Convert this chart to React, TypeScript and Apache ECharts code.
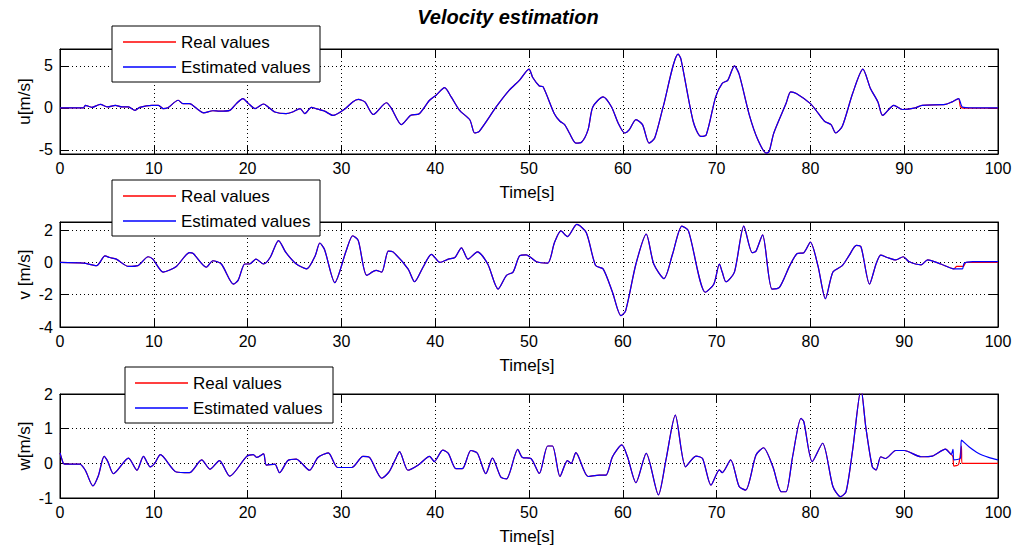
import React, { useEffect, useRef } from "react";
import * as echarts from "echarts";

// ---------- data ----------
const uTime = [0, 2.5, 2.7, 3.4, 4.3, 5.1, 5.9, 6.6, 7.3, 8.0, 8.5, 9.8, 10.5, 11.0, 11.5, 12.6, 13.1, 13.8, 14.6, 15.3, 16.3, 17.0, 18.1, 18.8, 19.5, 20.1, 20.8, 21.7, 22.2, 22.9, 24.1, 24.8, 25.6, 26.1, 26.8, 27.3, 28.2, 29.1, 30.4, 31.2, 31.8, 32.5, 33.4, 34.8, 35.3, 36.4, 37.4, 38.3, 39.4, 40.1, 41.0, 41.7, 42.6, 43.7, 44.2, 44.7, 46.5, 47.9, 49.0, 50.0, 50.4, 51.1, 51.5, 52.7, 53.3, 53.8, 54.3, 55.0, 55.6, 56.3, 56.8, 57.9, 58.8, 59.5, 60.2, 60.7, 61.4, 62.1, 62.8, 63.4, 64.3, 65.9, 66.2, 67.5, 68.3, 68.9, 69.9, 70.6, 71.2, 71.9, 72.4, 73.5, 74.4, 75.3, 75.6, 76.1, 77.4, 77.9, 78.5, 80.0, 80.6, 81.5, 82.2, 82.7, 83.4, 84.5, 85.6, 86.4, 87.2, 87.7, 88.9, 89.8, 91.2, 91.9, 94.4, 95.1, 95.8, 96.2, 97.3, 100];
const uEstimated = [0, 0, 0.3, 0.05, 0.4, 0.1, 0.3, 0.1, 0.1, -0.3, 0.05, 0.3, 0.3, -0.1, 0, 0.9, 0.5, 0.5, -0.1, -0.6, -0.35, -0.4, -0.3, 0.5, 1.1, 0.5, -0.1, 0.45, 0.1, -0.5, -0.7, -0.5, -0.1, -0.7, 0.05, -0.1, -0.4, -0.9, -0.1, 0.7, 1.0, 0.7, -0.8, 0.6, 0, -2.0, -0.9, -0.7, 0.9, 1.5, 2.4, 1.3, -0.3, -1.45, -3.0, -2.8, 0.1, 2.1, 3.3, 4.6, 3.6, 2.6, 2.5, -0.7, -1.6, -2.0, -3.0, -4.2, -4.1, -2.6, 0.1, 1.3, 0.1, -1.8, -3.0, -2.6, -1.4, -2.0, -4.2, -3.6, 0.1, 6.4, 5.8, -1.6, -3.4, -3.2, 1.3, 2.9, 3.3, 5.0, 4.0, -0.9, -3.8, -5.4, -5.2, -3.0, 0.5, 1.9, 1.7, 0.5, -0.3, -1.6, -2.0, -3.0, -2.2, 1.7, 4.6, 2.3, 0.7, -0.9, 0.3, -0.2, 0.0, 0.3, 0.4, 0.7, 1.1, 0.1, 0.0, 0.0];
const uRealCut = 95.8;
const uRealTailTime = [96.0, 96.5, 100];
const uRealTail = [0.1, -0.05, -0.05];

const vTime = [0, 2.5, 3.9, 4.8, 5.3, 6.0, 7.3, 8.3, 9.4, 9.9, 11.0, 12.4, 13.8, 14.2, 15.6, 16.3, 17.2, 18.5, 19.0, 19.7, 20.2, 20.9, 21.7, 22.4, 23.3, 24.1, 25.2, 26.3, 27.2, 27.7, 28.2, 29.3, 30.5, 31.2, 31.8, 32.7, 33.7, 34.3, 35.0, 35.5, 37.1, 37.8, 38.7, 39.6, 40.5, 41.4, 42.1, 42.8, 43.5, 44.5, 45.6, 46.7, 47.6, 48.3, 48.99, 49.7, 50.8, 52.0, 52.7, 53.4, 54.1, 55.1, 56.1, 57.1, 57.9, 58.9, 59.8, 60.3, 61.4, 62.5, 63.3, 64.4, 65.3, 66.3, 67.0, 68.8, 69.7, 70.3, 70.6, 71.0, 71.9, 72.9, 73.8, 74.2, 74.9, 75.9, 76.7, 77.8, 78.6, 79.3, 80.0, 80.8, 81.6, 82.4, 83.4, 84.1, 84.9, 85.4, 86.3, 87.0, 87.5, 88.2, 89.1, 89.9, 90.5, 91.8, 92.5, 93.9, 95.3, 96.2, 96.4, 97.3, 100];
const vEstimated = [0, -0.05, -0.2, 0.4, 0.3, 0.2, -0.25, -0.2, 0.35, 0.2, -0.6, -0.25, 0.6, 0.55, -0.3, 0.1, -0.1, -1.35, -1.1, -0.1, -0.1, 0.2, -0.1, 0.3, 1.35, 0.6, -0.1, -0.4, 0.4, 1.2, 0.8, -1.25, 0.7, 1.65, 1.35, -0.8, -0.5, -0.6, 0.7, 0.65, -0.4, -1.2, -0.3, 0.5, 0.0, 0.2, 0.3, 0.9, 0.2, 0.65, -0.1, -1.65, -0.8, -0.6, 0.4, 0.47, 0.04, -0.04, 1.2, 1.95, 1.6, 2.35, 1.85, -0.2, -0.4, -1.85, -3.3, -3.0, -0.1, 1.75, -0.1, -1.0, 0.5, 2.25, 1.95, -1.85, -1.35, -0.1, -0.6, -1.2, -0.6, 2.25, 0.6, 0.7, 1.7, -1.65, -1.55, -0.2, 0.55, 0.6, 1.25, -0.2, -2.25, -0.6, -0.2, 0.4, 1.05, 0.95, -1.35, -0.1, 0.45, 0.3, 0.15, 0.35, 0.05, -0.15, 0.15, -0.1, -0.4, -0.4, -0.05, 0.05, 0.05];
const vRealCut = 95.3;
const vRealTailTime = [95.6, 96.3, 96.6, 100];
const vRealTail = [-0.25, -0.25, 0, 0];

const wTime = [0, 0.35, 0.5, 2.1, 2.7, 3.5, 4.1, 4.7, 5.1, 5.7, 7.3, 8.2, 8.9, 9.6, 10.1, 10.7, 12.4, 13.8, 15.1, 16.0, 17.0, 18.1, 19.9, 20.6, 21.0, 21.7, 22.0, 22.9, 23.4, 24.3, 25.2, 25.7, 26.6, 27.5, 28.6, 29.6, 31.1, 32.3, 33.0, 34.3, 35.1, 35.9, 36.2, 37.1, 38.2, 39.4, 39.9, 40.8, 41.4, 42.2, 42.9, 43.8, 44.5, 45.4, 46.1, 47.0, 47.6, 48.8, 49.3, 50.2, 51.1, 51.99, 52.5, 53.3, 54.1, 54.5, 55.0, 56.3, 57.5, 58.2, 58.9, 59.9, 60.5, 61.4, 62.5, 63.8, 64.6, 65.6, 66.7, 67.8, 68.5, 69.4, 70.3, 70.6, 71.5, 72.4, 73.1, 74.2, 75.0, 76.0, 76.9, 77.4, 78.1, 79.0, 79.3, 80.2, 81.3, 82.4, 83.2, 83.8, 84.5, 85.4, 85.9, 86.6, 87.0, 87.5, 88.0, 89.1, 90.0, 91.8, 93.0, 94.4, 95.0, 95.2, 95.3, 96.0, 96.1, 96.9, 97.9, 99.0, 100];
const wEstimated = [0.3, 0.0, -0.02, -0.02, -0.2, -0.65, -0.35, 0.2, 0.05, -0.3, 0.15, -0.2, 0.2, -0.1, 0.0, 0.25, -0.25, -0.27, 0.1, -0.17, 0.08, -0.37, 0.2, 0.25, 0.17, 0.27, -0.05, -0.02, -0.27, 0.08, 0.12, 0.02, -0.2, 0.17, 0.3, -0.12, -0.12, 0.2, 0.17, -0.43, -0.24, 0.2, 0.34, -0.2, -0.05, 0.2, 0.05, 0.38, 0.29, -0.15, -0.15, 0.37, 0.29, -0.3, 0.15, -0.4, -0.45, 0.4, 0.17, 0.14, -0.29, 0.5, 0.5, -0.38, 0.08, 0.0, 0.31, -0.38, -0.34, -0.34, 0.19, 0.53, 0.19, -0.56, 0.29, -0.91, 0.1, 1.39, -0.1, 0.21, 0.14, -0.63, -0.19, -0.27, 0.1, -0.67, -0.77, 0.24, 0.45, -0.1, -0.82, -0.82, 0.19, 1.3, 1.2, 0.05, 0.58, -0.67, -0.96, -0.82, 0.38, 2.15, 1.06, -0.1, -0.19, 0.19, 0.14, 0.37, 0.37, 0.19, 0.21, 0.41, 0.26, 0.4, 0.1, 0.15, 0.67, 0.48, 0.29, 0.17, 0.1];
const wRealCut = 95.0;
const wRealTailTime = [95.2, 95.3, 95.8, 96.1, 96.15, 100];
const wRealTail = [0.19, -0.08, -0.03, 0.5, 0, 0];

const uTicks = [-5, 0, 5];
const vTicks = [-4, -2, 0, 2];
const wTicks = [-1, 0, 1, 2];
const yLabels = ["u[m/s]", "v [m/s]", "w[m/s]"];
const legendNames = ["Real values", "Estimated values"];
const titleText = "Velocity estimation";
const xName = "Time[s]";

// ---------- layout ----------
const FONT = '"Liberation Sans", Arial, sans-serif';
const GRID_LEFT = 60;
const GRID_WIDTH = 938;
const panelLayout = [
  { top: 49, height: 105, min: -5.5, max: 7, ticks: uTicks, legend: { x: 112, y: 26, lx: 123, tx: 181 } },
  { top: 222, height: 105, min: -4, max: 2.5, ticks: vTicks, legend: { x: 112, y: 180, lx: 123, tx: 181 } },
  { top: 394, height: 104, min: -1, max: 2, ticks: wTicks, legend: { x: 125, y: 367, lx: 135, tx: 193 } },
];

function pairs(t: number[], v: number[]) {
  return t.map((x, i) => [x, v[i]]);
}
function realSeries(t: number[], v: number[], cut: number, tt: number[], tv: number[]) {
  const head = pairs(t, v).filter((p) => p[0] <= cut);
  return head.concat(pairs(tt, tv));
}

const estimatedData = [pairs(uTime, uEstimated), pairs(vTime, vEstimated), pairs(wTime, wEstimated)];
const realData = [
  realSeries(uTime, uEstimated, uRealCut, uRealTailTime, uRealTail),
  realSeries(vTime, vEstimated, vRealCut, vRealTailTime, vRealTail),
  realSeries(wTime, wEstimated, wRealCut, wRealTailTime, wRealTail),
];

function buildOption() {
  const grid: any[] = [];
  const xAxis: any[] = [];
  const yAxis: any[] = [];
  const series: any[] = [];
  const graphic: any[] = [];
  const black = "#000";
  const dotted = { color: black, width: 1, type: [1, 3] };

  panelLayout.forEach((p, i) => {
    grid.push({
      left: GRID_LEFT,
      top: p.top,
      width: GRID_WIDTH,
      height: p.height,
      show: true,
      borderColor: black,
      borderWidth: 1,
      backgroundColor: "#fff",
    });
    xAxis.push({
      type: "value",
      gridIndex: i,
      position: "bottom",
      min: 0,
      max: 100,
      interval: 10,
      axisLine: { show: true, onZero: false, lineStyle: { color: black } },
      axisTick: { show: true, inside: true, length: 8, lineStyle: { color: black } },
      axisLabel: { color: black, fontSize: 16, fontFamily: FONT, margin: 6 },
      splitLine: { show: true, lineStyle: dotted },
    });
    xAxis.push({
      type: "value",
      gridIndex: i,
      position: "top",
      min: 0,
      max: 100,
      interval: 10,
      axisLine: { show: true, onZero: false, lineStyle: { color: black } },
      axisTick: { show: true, inside: true, length: 8, lineStyle: { color: black } },
      axisLabel: { show: false },
      splitLine: { show: false },
    });
    yAxis.push({
      type: "value",
      gridIndex: i,
      position: "left",
      min: p.min,
      max: p.max,
      axisLine: { show: true, onZero: false, lineStyle: { color: black } },
      axisTick: { show: true, inside: true, length: 9, customValues: p.ticks, lineStyle: { color: black } },
      axisLabel: { color: black, fontSize: 16, fontFamily: FONT, margin: 7, customValues: p.ticks },
      splitLine: { show: true, lineStyle: dotted },
    });
    yAxis.push({
      type: "value",
      gridIndex: i,
      position: "right",
      min: p.min,
      max: p.max,
      axisLine: { show: true, onZero: false, lineStyle: { color: black } },
      axisTick: { show: true, inside: true, length: 9, customValues: p.ticks, lineStyle: { color: black } },
      axisLabel: { show: false },
      splitLine: { show: false },
    });
    series.push({
      name: legendNames[0],
      type: "line",
      xAxisIndex: 2 * i,
      yAxisIndex: 2 * i,
      data: realData[i],
      showSymbol: false,
      symbol: "none",
      smooth: 0.25,
      clip: true,
      silent: true,
      z: 3,
      lineStyle: { color: "#ff0000", width: 1.2 },
      itemStyle: { color: "#ff0000" },
    });
    series.push({
      name: legendNames[1],
      type: "line",
      xAxisIndex: 2 * i,
      yAxisIndex: 2 * i,
      data: estimatedData[i],
      showSymbol: false,
      symbol: "none",
      smooth: 0.25,
      clip: true,
      silent: true,
      z: 4,
      lineStyle: { color: "#0000ff", width: 1.2 },
      itemStyle: { color: "#0000ff" },
    });

    // y label
    graphic.push({
      type: "text",
      x: 24,
      y: p.top + p.height / 2,
      rotation: Math.PI / 2,
      z: 50,
      style: { text: yLabels[i], font: `17px ${FONT}`, fill: black, align: "center", verticalAlign: "middle" },
    });
    // x label
    graphic.push({
      type: "text",
      x: GRID_LEFT + GRID_WIDTH / 2 - 2,
      y: p.top + p.height + 38,
      z: 50,
      style: { text: xName, font: `17px ${FONT}`, fill: black, align: "center", verticalAlign: "middle" },
    });
    // legend
    const L = p.legend;
    graphic.push(
      { type: "rect", z: 100, shape: { x: L.x, y: L.y, width: 208, height: 56 }, style: { fill: "#fff", stroke: black, lineWidth: 1 } },
      { type: "line", z: 101, shape: { x1: L.lx, y1: L.y + 16, x2: L.lx + 53, y2: L.y + 16 }, style: { stroke: "#ff0000", lineWidth: 1.4 } },
      { type: "line", z: 101, shape: { x1: L.lx, y1: L.y + 41, x2: L.lx + 53, y2: L.y + 41 }, style: { stroke: "#0000ff", lineWidth: 1.4 } },
      { type: "text", z: 101, x: L.tx, y: L.y + 16, style: { text: legendNames[0], font: `17px ${FONT}`, fill: black, align: "left", verticalAlign: "middle" } },
      { type: "text", z: 101, x: L.tx, y: L.y + 41, style: { text: legendNames[1], font: `17px ${FONT}`, fill: black, align: "left", verticalAlign: "middle" } }
    );
  });

  graphic.push({
    type: "text",
    x: 508,
    y: 17,
    z: 50,
    style: { text: titleText, font: `italic bold 20px ${FONT}`, fill: "#000", align: "center", verticalAlign: "middle" },
  });

  return {
    animation: false,
    backgroundColor: "#fff",
    grid,
    xAxis,
    yAxis,
    series,
    graphic,
  };
}

export default function App() {
  const ref = useRef<HTMLDivElement>(null);
  useEffect(() => {
    if (!ref.current) return;
    const chart = echarts.init(ref.current, undefined, { renderer: "svg" });
    chart.setOption(buildOption() as any);
    return () => chart.dispose();
  }, []);
  return (
    <div
      ref={ref}
      style={{ position: "absolute", left: 0, top: 0, width: 1015, height: 549, background: "#fff" }}
    />
  );
}
